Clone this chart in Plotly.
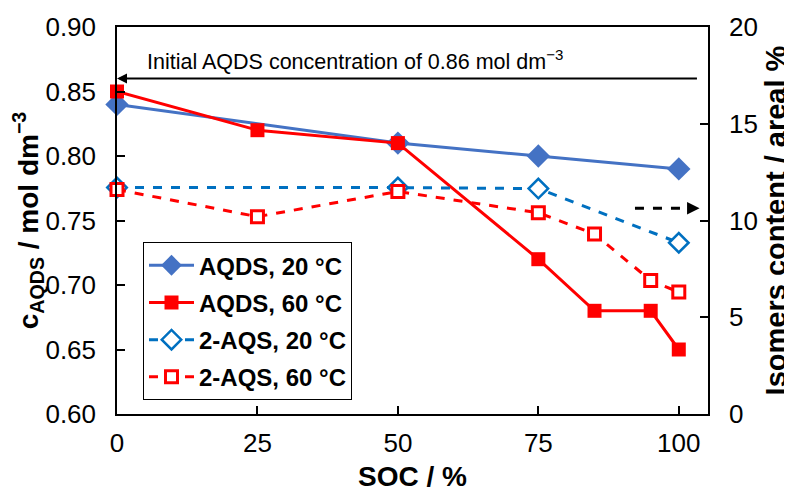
import plotly.graph_objects as go

# ---- data ----
soc_aqds20 = [0, 50, 75, 100]
c_aqds20 = [0.84, 0.81, 0.80, 0.79]
soc_aqds60 = [0, 25, 50, 75, 85, 95, 100]
c_aqds60 = [0.85, 0.82, 0.81, 0.72, 0.68, 0.68, 0.65]
soc_aqs20 = [0, 50, 75, 100]
iso_aqs20 = [11.7, 11.7, 11.65, 8.85]
soc_aqs60 = [0, 25, 50, 75, 85, 95, 100]
iso_aqs60 = [11.6, 10.2, 11.5, 10.4, 9.3, 6.9, 6.3]

x_ticks = [0, 25, 50, 75, 100]
initial_c = 0.86
isomer_arrow_level = 10.63

FONT = "Liberation Sans, Arial, sans-serif"
BLUE = "#4472C4"
BLUE2 = "#0070C0"
RED = "#FF0000"

fig = go.Figure()
fig.add_trace(go.Scatter(x=soc_aqds20, y=c_aqds20, name="AQDS, 20 °C", mode="lines+markers",
                         line=dict(color=BLUE, width=3),
                         marker=dict(symbol="diamond", size=18, color=BLUE),
                         cliponaxis=False, legendgroup="a"))
fig.add_trace(go.Scatter(x=soc_aqds60, y=c_aqds60, name="AQDS, 60 °C", mode="lines+markers",
                         line=dict(color=RED, width=3),
                         marker=dict(symbol="square", size=14, color=RED),
                         cliponaxis=False, legendgroup="b"))
fig.add_trace(go.Scatter(x=soc_aqs20, y=iso_aqs20, name="2-AQS, 20 °C", mode="lines+markers",
                         yaxis="y2", line=dict(color=BLUE2, width=3, dash="dash"),
                         marker=dict(symbol="diamond", size=15, color="white",
                                     line=dict(color=BLUE2, width=2.5)),
                         cliponaxis=False, legendgroup="c"))
fig.add_trace(go.Scatter(x=soc_aqs60, y=iso_aqs60, name="2-AQS, 60 °C", mode="lines+markers",
                         yaxis="y2", line=dict(color=RED, width=3, dash="dash"),
                         marker=dict(symbol="square", size=12, color="white",
                                     line=dict(color=RED, width=3)),
                         cliponaxis=False, legendgroup="d"))

# solid arrow: initial concentration
fig.add_annotation(x=0, y=initial_c, xref="x", yref="y", ax=103.5, ay=initial_c,
                   axref="x", ayref="y", text="", showarrow=True, arrowhead=2,
                   arrowsize=1, arrowwidth=2, arrowcolor="black", standoff=0)
fig.add_annotation(x=5, y=0.8745, xref="x", yref="y", xanchor="left", yanchor="middle",
                   text="Initial AQDS concentration of 0.86 mol dm<sup>−3</sup>",
                   showarrow=False, font=dict(family=FONT, size=21.5, color="black"))

# dashed arrow pointing to right axis
fig.add_shape(type="line", x0=92.2, x1=102.3, y0=isomer_arrow_level, y1=isomer_arrow_level,
              xref="x", yref="y2", line=dict(color="black", width=3, dash="dash"))
fig.add_annotation(x=103.7, y=isomer_arrow_level, xref="x", yref="y2",
                   ax=101.5, ay=isomer_arrow_level, axref="x", ayref="y2",
                   text="", showarrow=True, arrowhead=2, arrowsize=1, arrowwidth=2.5,
                   arrowcolor="black", standoff=0)

axis_common = dict(showgrid=False, zeroline=False, showline=True, linecolor="black",
                   linewidth=1.5, ticks="inside", ticklen=8, tickwidth=1.5, tickcolor="black",
                   automargin=False,
                   tickfont=dict(family=FONT, size=26, color="black"))

# page body has an 8px default margin, so the figure is sized/offset to compensate
fig.update_layout(
    width=784, height=484,
    margin=dict(l=109, r=84, t=19, b=78),
    paper_bgcolor="white", plot_bgcolor="white",
    font=dict(family=FONT, color="black"),
    xaxis=dict(range=[0, 105.2], tickvals=x_ticks, mirror=True, ticklabelstandoff=5,
               title=dict(text="SOC / %", font=dict(family=FONT, size=28, weight="bold"),
                          standoff=9),
               **axis_common),
    yaxis=dict(range=[0.6, 0.9], dtick=0.05, tickformat=".2f", mirror=True,
               ticklabelstandoff=14,
               title=dict(text="c<sub>AQDS</sub> / mol dm<sup>−3</sup>",
                          font=dict(family=FONT, size=28, weight="bold"), standoff=4),
               **axis_common),
    yaxis2=dict(range=[0, 20], dtick=5, overlaying="y", side="right", ticklabelstandoff=14,
                title=dict(text="Isomers content / areal %",
                           font=dict(family=FONT, size=29, weight="bold"), standoff=10),
                **axis_common),
    legend=dict(x=0.044, y=0.444, xanchor="left", yanchor="top",
                bordercolor="black", borderwidth=1, bgcolor="white",
                font=dict(family=FONT, size=24, weight="bold", color="black"),
                traceorder="grouped", tracegroupgap=3, itemwidth=45),
    showlegend=True,
)

fig.write_html("out.html")
